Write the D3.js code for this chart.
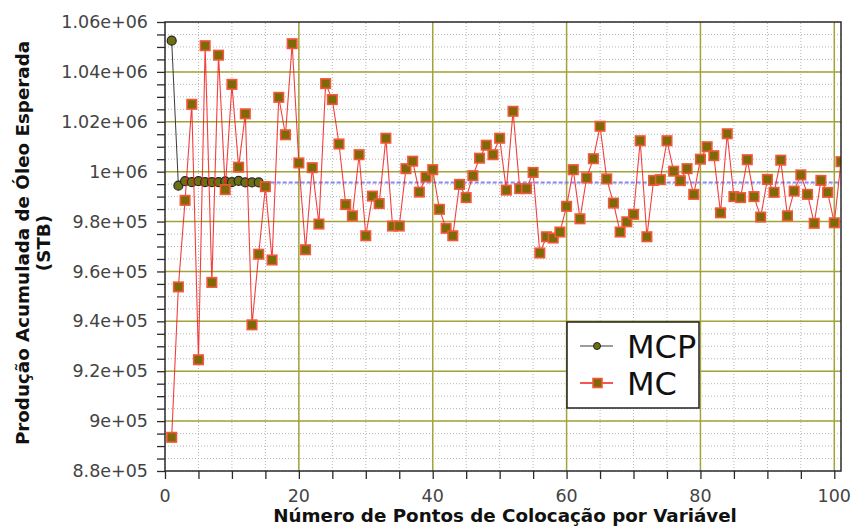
<!DOCTYPE html>
<html>
<head>
<meta charset="utf-8">
<script src="https://cdn.jsdelivr.net/npm/d3@7"></script>
<style>
  body { margin: 0; background: #fff; }
  svg { display: block; font-family: 'DejaVu Sans', sans-serif; }
</style>
</head>
<body>
<div id="chart"></div>
<script>
// MCP - converges quickly (points 1..14)
const mcpValues = [
  1052500, 994400, 996200, 995800, 996200, 995800, 995800,
  995800, 996100, 995800, 996300, 995700, 995700, 995700,
];

// MC - Monte Carlo estimate (points 1..101)
const mcValues = [
  893500, 953800, 988500, 1027000, 924600, 1050500, 955600, 1046700, 992800, 1035000,
  1001800, 1023200, 938600, 966900, 994000, 964600, 1029800, 1014800, 1051300, 1003500,
  968700, 1001600, 979000, 1035300, 1028900, 1011100, 986800, 982300, 1006800, 974300,
  990200, 987200, 1013400, 978200, 978200, 1001200, 1004200, 991800, 997900, 1000800,
  984900, 977300, 974300, 994900, 989600, 998400, 1005400, 1010600, 1006800, 1013400,
  992600, 1024200, 993200, 993200, 999700, 967400, 973900, 973400, 975800, 986100,
  1000800, 981100, 997500, 1005200, 1018200, 997100, 987400, 975800, 979900, 982900,
  1012400, 973900, 996500, 996800, 1012400, 1000200, 996400, 1001200, 990900, 1005000,
  1010000, 1006400, 983500, 1015200, 990000, 989600, 1004800, 990000, 981800, 996900,
  991700, 1004600, 982300, 992200, 998700, 990900, 979300, 996500, 991700, 979500,
  1004000,
];

const convergedValue = 995700;

const xTicks = [0, 20, 40, 60, 80, 100];
const yTicks = [880000, 900000, 920000, 940000, 960000, 980000, 1000000, 1020000, 1040000, 1060000];
const yTickLabels = ['8.8e+05', '9e+05', '9.2e+05', '9.4e+05', '9.6e+05', '9.8e+05', '1e+06', '1.02e+06', '1.04e+06', '1.06e+06'];

const seriesNames = ['MCP', 'MC'];

const width = 852;
const height = 527;
const margin = { top: 22, right: 10, bottom: 56, left: 165 };
const plotW = 841 - margin.left;
const plotH = 471 - margin.top;

const svg = d3
  .select('#chart')
  .append('svg')
  .attr('width', width)
  .attr('height', height);

const x = d3.scaleLinear().domain([0, 101]).range([margin.left, margin.left + plotW]);
const y = d3.scaleLinear().domain([880000, 1060000]).range([margin.top + plotH, margin.top]);

const minorX = d3.range(0, 101.01, 5);
const minorY = d3.range(880000, 1060001, 5000);

const olive = '#a3a33a';

// minor grid (dotted)
const grid = svg.append('g');
grid
  .selectAll('.mx')
  .data(minorX)
  .join('line')
  .attr('x1', (d) => x(d))
  .attr('x2', (d) => x(d))
  .attr('y1', y.range()[0])
  .attr('y2', y.range()[1])
  .attr('stroke', '#b5b5b5')
  .attr('stroke-width', 1)
  .attr('stroke-dasharray', '1,2');

grid
  .selectAll('.my')
  .data(minorY)
  .join('line')
  .attr('x1', x.range()[0])
  .attr('x2', x.range()[1])
  .attr('y1', (d) => y(d))
  .attr('y2', (d) => y(d))
  .attr('stroke', '#b5b5b5')
  .attr('stroke-width', 1)
  .attr('stroke-dasharray', '1,2');

// major grid (olive)
grid
  .selectAll('.Mx')
  .data(xTicks.filter((d) => d > 0))
  .join('line')
  .attr('x1', (d) => x(d))
  .attr('x2', (d) => x(d))
  .attr('y1', y.range()[0])
  .attr('y2', y.range()[1])
  .attr('stroke', olive)
  .attr('stroke-width', 1.5);

grid
  .selectAll('.My')
  .data(yTicks.slice(1, -1))
  .join('line')
  .attr('x1', x.range()[0])
  .attr('x2', x.range()[1])
  .attr('y1', (d) => y(d))
  .attr('y2', (d) => y(d))
  .attr('stroke', olive)
  .attr('stroke-width', 1.5);

// clip
svg
  .append('clipPath')
  .attr('id', 'clip')
  .append('rect')
  .attr('x', x.range()[0])
  .attr('y', y.range()[1])
  .attr('width', plotW)
  .attr('height', plotH);

const plot = svg.append('g').attr('clip-path', 'url(#clip)');

// converged reference (blue dashed)
plot
  .append('line')
  .attr('x1', x(mcpValues.length))
  .attr('x2', x.range()[1])
  .attr('y1', y(convergedValue))
  .attr('y2', y(convergedValue))
  .attr('stroke', '#7474ee')
  .attr('stroke-width', 2)
  .attr('stroke-dasharray', '4,2')
  .attr('opacity', 0.85);

const line = d3
  .line()
  .x((d, i) => x(i + 1))
  .y((d) => y(d));

// MCP
plot
  .append('path')
  .datum(mcpValues)
  .attr('d', line)
  .attr('fill', 'none')
  .attr('stroke', '#3a3a3a')
  .attr('stroke-width', 1);

plot
  .selectAll('.mcp')
  .data(mcpValues)
  .join('circle')
  .attr('cx', (d, i) => x(i + 1))
  .attr('cy', (d) => y(d))
  .attr('r', 4.5)
  .attr('fill', '#6e6e12')
  .attr('stroke', '#262626')
  .attr('stroke-width', 1.2);

// MC
plot
  .append('path')
  .datum(mcValues)
  .attr('d', line)
  .attr('fill', 'none')
  .attr('stroke', '#f21d1d')
  .attr('stroke-width', 1.1)
  .attr('opacity', 0.85);

const sq = 9.5;
plot
  .selectAll('.mc')
  .data(mcValues)
  .join('rect')
  .attr('x', (d, i) => x(i + 1) - sq / 2)
  .attr('y', (d) => y(d) - sq / 2)
  .attr('width', sq)
  .attr('height', sq)
  .attr('fill', '#7d6a06')
  .attr('stroke', '#f4583a')
  .attr('stroke-width', 1.6);

// frame
svg
  .append('rect')
  .attr('x', x.range()[0])
  .attr('y', y.range()[1])
  .attr('width', plotW)
  .attr('height', plotH)
  .attr('fill', 'none')
  .attr('stroke', '#2b2b2b')
  .attr('stroke-width', 1.5);

// axes
const xAxis = svg
  .append('g')
  .attr('transform', `translate(0,${y.range()[0]})`)
  .call(d3.axisBottom(x).tickValues(minorX).tickSize(8).tickFormat(''));
xAxis.select('.domain').remove();
xAxis.selectAll('line').attr('stroke', '#2b2b2b').attr('stroke-width', 1.3);

const yAxis = svg
  .append('g')
  .attr('transform', `translate(${x.range()[0]},0)`)
  .call(d3.axisLeft(y).tickValues(minorY).tickSize(8).tickFormat(''));
yAxis.select('.domain').remove();
yAxis.selectAll('line').attr('stroke', '#2b2b2b').attr('stroke-width', 1.3);

// tick labels
svg
  .append('g')
  .selectAll('text')
  .data(xTicks)
  .join('text')
  .attr('x', (d) => x(d))
  .attr('y', 502)
  .attr('text-anchor', 'middle')
  .attr('font-size', 17.5)
  .attr('fill', '#444')
  .text((d) => d);

svg
  .append('g')
  .selectAll('text')
  .data(yTicks)
  .join('text')
  .attr('x', 148)
  .attr('y', (d) => y(d))
  .attr('dy', '0.35em')
  .attr('text-anchor', 'end')
  .attr('font-size', 17.5)
  .attr('fill', '#444')
  .text((d, i) => yTickLabels[i]);

// axis titles
svg
  .append('text')
  .attr('x', 505)
  .attr('y', 522)
  .attr('text-anchor', 'middle')
  .attr('font-size', 18.3)
  .attr('font-weight', 'bold')
  .attr('fill', '#111')
  .text('Número de Pontos de Colocação por Variável');

const yTitle = svg
  .append('text')
  .attr('transform', 'translate(0,243) rotate(-90)')
  .attr('text-anchor', 'middle')
  .attr('font-size', 18.3)
  .attr('font-weight', 'bold')
  .attr('fill', '#111');
yTitle.append('tspan').attr('x', 0).attr('y', 29).text('Produção Acumulada de Óleo Esperada');
yTitle.append('tspan').attr('x', 0).attr('y', 50).text('(STB)');

// legend
const legend = svg.append('g').attr('transform', 'translate(567,322)');
legend
  .append('rect')
  .attr('width', 132)
  .attr('height', 86)
  .attr('fill', '#fff')
  .attr('stroke', '#222')
  .attr('stroke-width', 1.5);

const rowY = [24, 61];
seriesNames.forEach((name, i) => {
  const g = legend.append('g').attr('transform', `translate(0,${rowY[i]})`);
  g.append('line')
    .attr('x1', 13)
    .attr('x2', 46)
    .attr('stroke', i === 0 ? '#3a3a3a' : '#f21d1d')
    .attr('stroke-width', i === 0 ? 1.2 : 1.5);
  if (i === 0) {
    g.append('circle')
      .attr('cx', 30)
      .attr('r', 3.5)
      .attr('fill', '#6e6e12')
      .attr('stroke', '#262626');
  } else {
    g.append('rect')
      .attr('x', 26)
      .attr('y', -4.5)
      .attr('width', 9)
      .attr('height', 9)
      .attr('fill', '#7d6a06')
      .attr('stroke', '#f4583a')
      .attr('stroke-width', 1.6);
  }
  g.append('text')
    .attr('x', 60)
    .attr('y', 0)
    .attr('dy', '0.36em')
    .attr('font-size', 32)
    .attr('fill', '#111')
    .text(name);
});
</script>
</body>
</html>
